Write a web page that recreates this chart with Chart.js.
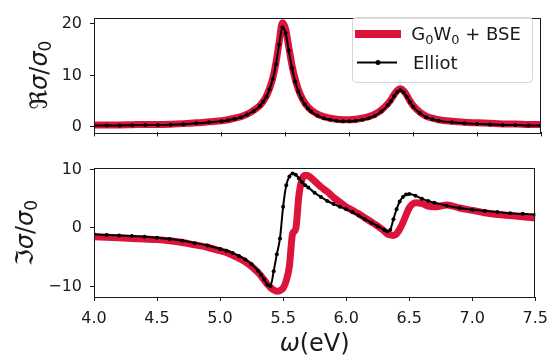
<!DOCTYPE html>
<html>
<head>
<meta charset="utf-8">
<script src="https://cdn.jsdelivr.net/npm/chart.js@4.4.1/dist/chart.umd.min.js"></script>
<style>
  body { margin: 0; background: #fff; }
  #wrap { position: relative; width: 556px; height: 356px; }
  canvas { position: absolute; left: 0; }
</style>
</head>
<body>
<div id="wrap">
  <canvas id="reChart" width="556" height="150" style="top:0"></canvas>
  <canvas id="imChart" width="556" height="206" style="top:150px"></canvas>
</div>
<script>
// photon energy grid (eV), denser around the two excitons
const omega = [4.0, 4.1, 4.2, 4.3, 4.4, 4.5, 4.6, 4.7, 4.8, 4.9,
  5.0, 5.05, 5.1, 5.15, 5.2, 5.25, 5.3, 5.325, 5.35, 5.375,
  5.4, 5.425, 5.45, 5.475, 5.5, 5.525, 5.55, 5.575, 5.6, 5.625,
  5.65, 5.675, 5.7, 5.75, 5.8, 5.85, 5.9, 5.95, 6.0, 6.05,
  6.1, 6.15, 6.2, 6.25, 6.3, 6.325, 6.35, 6.375, 6.4, 6.425,
  6.45, 6.475, 6.5, 6.55, 6.6, 6.65, 6.7, 6.8, 6.9, 7.0,
  7.1, 7.2, 7.3, 7.4, 7.5];

// Re sigma / sigma0
const reBSE = [0.4, 0.4, 0.4, 0.45, 0.5, 0.5, 0.55, 0.65, 0.8, 1.0,
  1.2, 1.4, 1.7, 2.0, 2.5, 3.2, 4.2, 5.0, 6.0, 7.5,
  9.5, 12.5, 16.5, 20.2, 19.0, 15.5, 12.0, 9.3, 7.3, 5.8,
  4.7, 3.9, 3.3, 2.5, 2.0, 1.7, 1.5, 1.4, 1.4, 1.5,
  1.7, 2.0, 2.5, 3.3, 4.5, 5.3, 6.3, 7.1, 7.4, 7.0,
  6.1, 5.0, 4.1, 2.9, 2.1, 1.7, 1.4, 1.1, 0.9, 0.8,
  0.7, 0.6, 0.6, 0.5, 0.5];
const reElliot = [0.3, 0.3, 0.3, 0.35, 0.4, 0.4, 0.45, 0.55, 0.7, 0.9,
  1.1, 1.3, 1.55, 1.9, 2.4, 3.1, 4.1, 4.9, 5.9, 7.3,
  9.3, 12.2, 16.0, 19.3, 18.2, 14.8, 11.4, 8.8, 6.9, 5.5,
  4.4, 3.6, 3.0, 2.2, 1.7, 1.4, 1.2, 1.1, 1.1, 1.2,
  1.4, 1.7, 2.2, 3.0, 4.2, 5.0, 6.0, 6.8, 7.1, 6.7,
  5.8, 4.8, 3.9, 2.7, 1.9, 1.5, 1.2, 0.9, 0.7, 0.6,
  0.5, 0.4, 0.4, 0.3, 0.3];

// Im sigma / sigma0
const imBSE = [-1.5, -1.6, -1.7, -1.8, -1.9, -2.0, -2.2, -2.5, -2.9, -3.3,
  -3.9, -4.2, -4.7, -5.2, -5.8, -6.6, -7.6, -8.2, -8.9, -9.6,
  -10.2, -10.6, -10.8, -10.7, -10.3, -9.0, -6.5, -1.0, -0.2, 5.5,
  8.3, 9.0, 8.9, 8.0, 7.0, 6.2, 5.2, 4.4, 3.6, 3.0,
  2.4, 1.7, 1.0, 0.3, -0.5, -1.0, -1.2, -1.3, -1.0, -0.2,
  0.9, 2.2, 3.4, 4.3, 4.2, 3.7, 3.6, 3.9, 3.4, 3.0,
  2.6, 2.3, 2.1, 1.9, 1.7];
const imElliot = [-1.1, -1.2, -1.3, -1.4, -1.5, -1.7, -1.9, -2.2, -2.6, -3.0,
  -3.6, -3.9, -4.3, -4.8, -5.4, -6.2, -7.3, -8.0, -8.8, -9.7,
  -9.9, -7.4, -4.5, -1.8, 3.6, 7.3, 8.8, 9.3, 9.1, 8.5,
  7.8, 7.3, 6.9, 6.0, 5.3, 4.6, 4.1, 3.6, 3.2, 2.7,
  2.1, 1.5, 0.9, 0.3, -0.3, -0.6, -0.3, 1.5, 3.2, 4.5,
  5.3, 5.7, 5.8, 5.5, 5.0, 4.6, 4.3, 3.8, 3.4, 3.1,
  2.9, 2.7, 2.5, 2.4, 2.3];

const xTicks = [4.0, 4.5, 5.0, 5.5, 6.0, 6.5, 7.0, 7.5];
const reTicks = [0, 10, 20];
const imTicks = [-10, 0, 10];
const seriesNames = ["G\u2080W\u2080 + BSE", "Elliot"];

const RED = "#dc143c";
const INK = "#1a1a1a";
const FONT = "DejaVu Sans";

function pts(ys) {
  return omega.map((x, i) => ({ x: x, y: ys[i] }));
}

function minus(v) {
  return String(v).replace("-", "\u2212");
}

// draw a run of text pieces (mathtext-like: italic symbols, subscripts)
// centred on 0,0 of the current transform
function drawPieces(ctx, pieces, size) {
  const fontOf = p => (p.it ? "italic " : "") + Math.round(size * (p.sub ? 0.7 : 1)) + "px '" + FONT + "'";
  let total = 0;
  pieces.forEach(p => { ctx.font = fontOf(p); p.w = ctx.measureText(p.t).width; total += p.w; });
  let x = -total / 2;
  ctx.textBaseline = "alphabetic";
  ctx.textAlign = "left";
  pieces.forEach(p => {
    ctx.font = fontOf(p);
    ctx.fillText(p.t, x, size * 0.36 + (p.sub ? size * 0.18 : 0));
    x += p.w;
  });
}

// full matplotlib-like frame round the plot area
const framePlugin = {
  id: "frame",
  afterDraw(chart) {
    const a = chart.chartArea, ctx = chart.ctx;
    ctx.save();
    ctx.strokeStyle = INK;
    ctx.lineWidth = 1;
    ctx.strokeRect(Math.round(a.left) + 0.5, Math.round(a.top) + 0.5,
      Math.round(a.right - a.left) - 1, Math.round(a.bottom - a.top));
    ctx.restore();
  }
};

// axis titles drawn with mixed upright / italic parts
const titlePlugin = {
  id: "mathTitles",
  afterDraw(chart, args, opts) {
    const ctx = chart.ctx;
    ctx.save();
    ctx.fillStyle = INK;
    ctx.save();
    ctx.translate(opts.yx, opts.yy);
    ctx.rotate(-Math.PI / 2);
    drawPieces(ctx, opts.yPieces, 24);
    ctx.restore();
    if (opts.xPieces) {
      ctx.translate((chart.chartArea.left + chart.chartArea.right) / 2, opts.xy);
      drawPieces(ctx, opts.xPieces, 24);
    }
    ctx.restore();
  }
};

// legend box in the upper right of the top panel
const legendPlugin = {
  id: "boxLegend",
  afterDraw(chart) {
    const ctx = chart.ctx;
    const x = 352, y = 17, w = 180, h = 65;
    ctx.save();
    ctx.beginPath();
    ctx.roundRect(x + 0.5, y + 0.5, w, h, 4);
    ctx.fillStyle = "rgba(255,255,255,0.85)";
    ctx.fill();
    ctx.strokeStyle = "#d4d4d4";
    ctx.lineWidth = 1;
    ctx.stroke();

    ctx.lineCap = "butt";
    ctx.strokeStyle = RED;
    ctx.lineWidth = 8;
    ctx.beginPath();
    ctx.moveTo(355, 34); ctx.lineTo(401, 34);
    ctx.stroke();

    ctx.strokeStyle = "#000";
    ctx.lineWidth = 2;
    ctx.beginPath();
    ctx.moveTo(357, 62.5); ctx.lineTo(397, 62.5);
    ctx.stroke();
    ctx.fillStyle = "#000";
    ctx.beginPath();
    ctx.arc(378, 62.5, 2.5, 0, Math.PI * 2);
    ctx.fill();

    ctx.fillStyle = INK;
    ctx.save();
    ctx.translate(466, 34);
    drawPieces(ctx, [{ t: "G" }, { t: "0", sub: true }, { t: "W" }, { t: "0", sub: true }, { t: " + BSE" }], 18);
    ctx.restore();
    ctx.font = "18px '" + FONT + "'";
    ctx.textBaseline = "alphabetic";
    ctx.fillText(seriesNames[1], 413, 62.5 + 18 * 0.36);
    ctx.restore();
  }
};

function makeOptions(cfg) {
  return {
    responsive: false,
    animation: false,
    layout: { padding: { top: cfg.padTop, right: 15, left: 0, bottom: 0 } },
    plugins: {
      legend: { display: false },
      tooltip: { enabled: false },
      mathTitles: cfg.titles
    },
    elements: { line: { cubicInterpolationMode: "monotone" } },
    scales: {
      x: {
        type: "linear",
        min: 4.0,
        max: 7.5,
        afterBuildTicks: s => { s.ticks = xTicks.map(v => ({ value: v })); },
        afterFit: s => { s.height = cfg.xHeight; },
        grid: { drawOnChartArea: false, tickLength: 4, color: INK },
        border: { display: false },
        ticks: {
          display: cfg.xLabels,
          color: INK,
          padding: 8,
          maxRotation: 0,
          font: { family: FONT, size: 16 },
          callback: v => Number(v).toFixed(1)
        }
      },
      y: {
        min: cfg.yMin,
        max: cfg.yMax,
        afterBuildTicks: s => { s.ticks = cfg.yTicks.map(v => ({ value: v })); },
        afterFit: s => { s.width = 94; },
        grid: { drawOnChartArea: false, tickLength: 4, color: INK },
        border: { display: false },
        ticks: {
          color: INK,
          padding: 8,
          font: { family: FONT, size: 16 },
          callback: v => minus(v)
        }
      }
    }
  };
}

function datasets(bse, elliot) {
  return [
    {
      label: seriesNames[1],
      data: pts(elliot),
      borderColor: "#000",
      backgroundColor: "#000",
      borderWidth: 2,
      pointRadius: 2,
      pointBorderWidth: 0,
      order: 0
    },
    {
      label: seriesNames[0],
      data: pts(bse),
      borderColor: RED,
      borderWidth: 7,
      pointRadius: 0,
      order: 1
    }
  ];
}

var reChart = new Chart(document.getElementById("reChart"), {
  type: "line",
  data: { datasets: datasets(reBSE, reElliot) },
  options: makeOptions({
    padTop: 8, xHeight: 10, xLabels: false,
    yMin: -1.05, yMax: 21.2, yTicks: reTicks,
    titles: {
      yx: 38, yy: 75,
      yPieces: [{ t: "\u211c" }, { t: "\u03c3", it: true }, { t: "/" }, { t: "\u03c3", it: true }, { t: "0", sub: true }]
    }
  }),
  plugins: [framePlugin, titlePlugin, legendPlugin]
});

var imChart = new Chart(document.getElementById("imChart"), {
  type: "line",
  data: { datasets: datasets(imBSE, imElliot) },
  options: makeOptions({
    padTop: 16, xHeight: 59, xLabels: true,
    yMin: -11.8, yMax: 10.3, yTicks: imTicks,
    titles: {
      yx: 24, yy: 83,
      yPieces: [{ t: "\u2111" }, { t: "\u03c3", it: true }, { t: "/" }, { t: "\u03c3", it: true }, { t: "0", sub: true }],
      xy: 192,
      xPieces: [{ t: "\u03c9", it: true }, { t: "(eV)" }]
    }
  }),
  plugins: [framePlugin, titlePlugin]
});
</script>
</body>
</html>
